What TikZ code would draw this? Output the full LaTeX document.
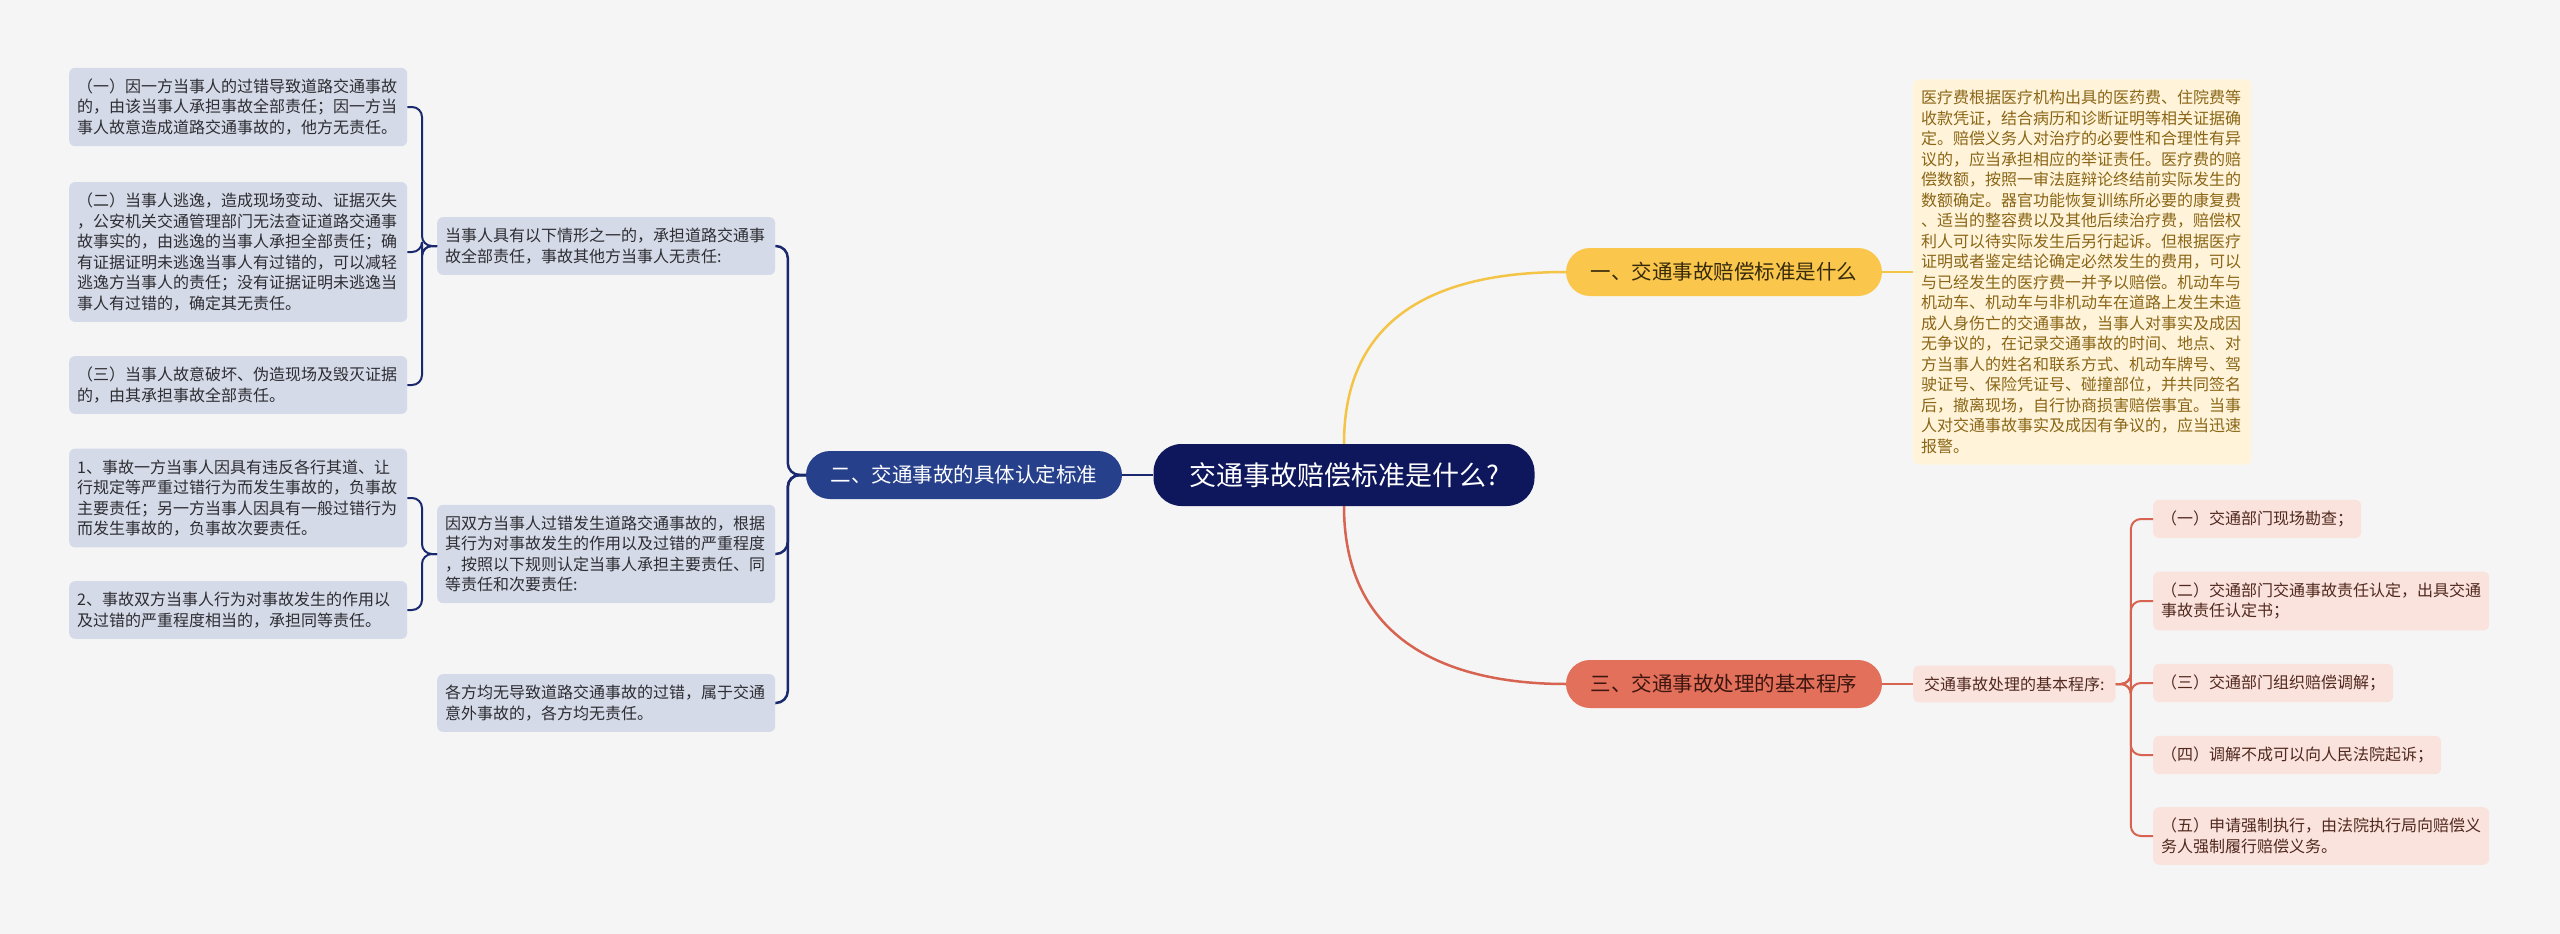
\documentclass[tikz,border=0pt]{standalone}
\usepackage{fontspec}
\newfontfamily\cjk{Noto Sans CJK SC}
\usepackage{tikz}
\usetikzlibrary{positioning,calc}
\usepackage{xcolor}
\definecolor{bggray}{RGB}{245,245,246}
\definecolor{rootnavy}{RGB}{14,22,92}
\definecolor{midblue}{RGB}{38,64,140}
\definecolor{navyline}{RGB}{26,40,110}
\definecolor{leafblue}{RGB}{213,218,232}
\definecolor{leafink}{RGB}{45,45,50}
\definecolor{sungold}{RGB}{250,199,76}
\definecolor{goldline}{RGB}{244,196,70}
\definecolor{cream}{RGB}{255,243,218}
\definecolor{creamink}{RGB}{138,102,22}
\definecolor{coral}{RGB}{226,112,90}
\definecolor{coralline}{RGB}{214,100,80}
\definecolor{blush}{RGB}{250,227,221}
\definecolor{blushink}{RGB}{80,40,30}

\begin{document}
\begin{tikzpicture}[x=1pt, y=-1pt,
    leaf/.style={rectangle, fill=leafblue, rounded corners=6pt, anchor=west, align=left,
                 text width=322pt, inner xsep=8pt, inner ysep=11pt, text=leafink,
                 font={\cjk\fontsize{16}{20.5}\selectfont}},
    note/.style={leaf, fill=cream, text=creamink},
    pinkleaf/.style={rectangle, fill=blush, rounded corners=6pt, anchor=west, align=left,
                 inner xsep=8pt, inner ysep=11pt, text=blushink,
                 font={\cjk\fontsize{16}{20.5}\selectfont}},
    branch/.style={rectangle, rounded corners=24pt, minimum width=316pt, minimum height=48pt,
                 font={\cjk\fontsize{20.5}{24}\selectfont}},
    navyarr/.style={draw=navyline, line width=2.5pt},
    thinnavy/.style={draw=navyline, line width=2pt, rounded corners=10pt},
    pinkarr/.style={draw=coralline, line width=2pt, rounded corners=10pt}
]
    \fill[bggray] (0,0) rectangle (2560,934);
    \useasboundingbox (0,0) rectangle (2560,934);

    % centre and main branches
    \node[rectangle, fill=rootnavy, text=white, rounded corners=28pt, minimum width=381pt,
          minimum height=62pt, font={\cjk\fontsize{27}{30}\selectfont}] (root) at (1344,475)
          {交通事故赔偿标准是什么?};
    \node[branch, fill=midblue, text=white] (two) at (964,475) {二、交通事故的具体认定标准};
    \node[branch, fill=sungold, text={rgb,255:red,55;green,42;blue,10}] (one) at (1724,272)
          {一、交通事故赔偿标准是什么};
    \node[branch, fill=coral, text={rgb,255:red,62;green,22;blue,16}] (three) at (1724,684)
          {三、交通事故处理的基本程序};

    % left side
    \node[leaf] (whole) at (437,246) {当事人具有以下情形之一的，承担道路交通事\\故全部责任，事故其他方当事人无责任:};
    \node[leaf] (both) at (437,554) {因双方当事人过错发生道路交通事故的，根据\\其行为对事故发生的作用以及过错的严重程度\\，按照以下规则认定当事人承担主要责任、同\\等责任和次要责任:};
    \node[leaf] (none) at (437,703) {各方均无导致道路交通事故的过错，属于交通\\意外事故的，各方均无责任。};

    \node[leaf] (fault) at (69,107) {（一）因一方当事人的过错导致道路交通事故\\的，由该当事人承担事故全部责任；因一方当\\事人故意造成道路交通事故的，他方无责任。};
    \node[leaf] (escape) at (69,252) {（二）当事人逃逸，造成现场变动、证据灭失\\，公安机关交通管理部门无法查证道路交通事\\故事实的，由逃逸的当事人承担全部责任；确\\有证据证明未逃逸当事人有过错的，可以减轻\\逃逸方当事人的责任；没有证据证明未逃逸当\\事人有过错的，确定其无责任。};
    \node[leaf] (destroy) at (69,385) {（三）当事人故意破坏、伪造现场及毁灭证据\\的，由其承担事故全部责任。};
    \node[leaf] (major) at (69,498) {1、事故一方当事人因具有违反各行其道、让\\行规定等严重过错行为而发生事故的，负事故\\主要责任；另一方当事人因具有一般过错行为\\而发生事故的，负事故次要责任。};
    \node[leaf] (equal) at (69,610) {2、事故双方当事人行为对事故发生的作用以\\及过错的严重程度相当的，承担同等责任。};

    % right side
    \node[note] (medical) at (1913,272) {医疗费根据医疗机构出具的医药费、住院费等\\收款凭证，结合病历和诊断证明等相关证据确\\定。赔偿义务人对治疗的必要性和合理性有异\\议的，应当承担相应的举证责任。医疗费的赔\\偿数额，按照一审法庭辩论终结前实际发生的\\数额确定。器官功能恢复训练所必要的康复费\\、适当的整容费以及其他后续治疗费，赔偿权\\利人可以待实际发生后另行起诉。但根据医疗\\证明或者鉴定结论确定必然发生的费用，可以\\与已经发生的医疗费一并予以赔偿。机动车与\\机动车、机动车与非机动车在道路上发生未造\\成人身伤亡的交通事故，当事人对事实及成因\\无争议的，在记录交通事故的时间、地点、对\\方当事人的姓名和联系方式、机动车牌号、驾\\驶证号、保险凭证号、碰撞部位，并共同签名\\后，撤离现场，自行协商损害赔偿事宜。当事\\人对交通事故事实及成因有争议的，应当迅速\\报警。};
    \node[pinkleaf, inner xsep=11pt] (proc) at (1913,684) {交通事故处理的基本程序:};

    \node[pinkleaf] (survey) at (2153,519) {（一）交通部门现场勘查；};
    \node[pinkleaf] (verdict) at (2153,601) {（二）交通部门交通事故责任认定，出具交通\\事故责任认定书；};
    \node[pinkleaf] (mediate) at (2153,683) {（三）交通部门组织赔偿调解；};
    \node[pinkleaf] (sue) at (2153,755) {（四）调解不成可以向人民法院起诉；};
    \node[pinkleaf] (enforce) at (2153,836) {（五）申请强制执行，由法院执行局向赔偿义\\务人强制履行赔偿义务。};

    % connectors
    \draw[navyarr] (two.east) -- (root.west);
    \draw[goldline, line width=2.5pt] (root.north) .. controls +(0,-140) and +(-110,0) .. (one.west);
    \draw[coralline, line width=2.5pt] (root.south) .. controls +(0,140) and +(-110,0) .. (three.west);
    \draw[goldline, line width=2.5pt] (one.east) -- (medical.west);
    \draw[coralline, line width=2.5pt] (three.east) -- (proc.west);

    \foreach \kid in {whole,both,none}
        \draw[navyarr, rounded corners=12pt] (two.west) -- ++(-18,0) |- (\kid.east);
    \foreach \kid in {fault,escape,destroy}
        \draw[thinnavy] (whole.west) -- ++(-15,0) |- (\kid.east);
    \foreach \kid in {major,equal}
        \draw[thinnavy] (both.west) -- ++(-15,0) |- (\kid.east);
    \foreach \kid in {survey,verdict,mediate,sue,enforce}
        \draw[pinkarr] (proc.east) -- ++(15,0) |- (\kid.west);
\end{tikzpicture}
\end{document}
